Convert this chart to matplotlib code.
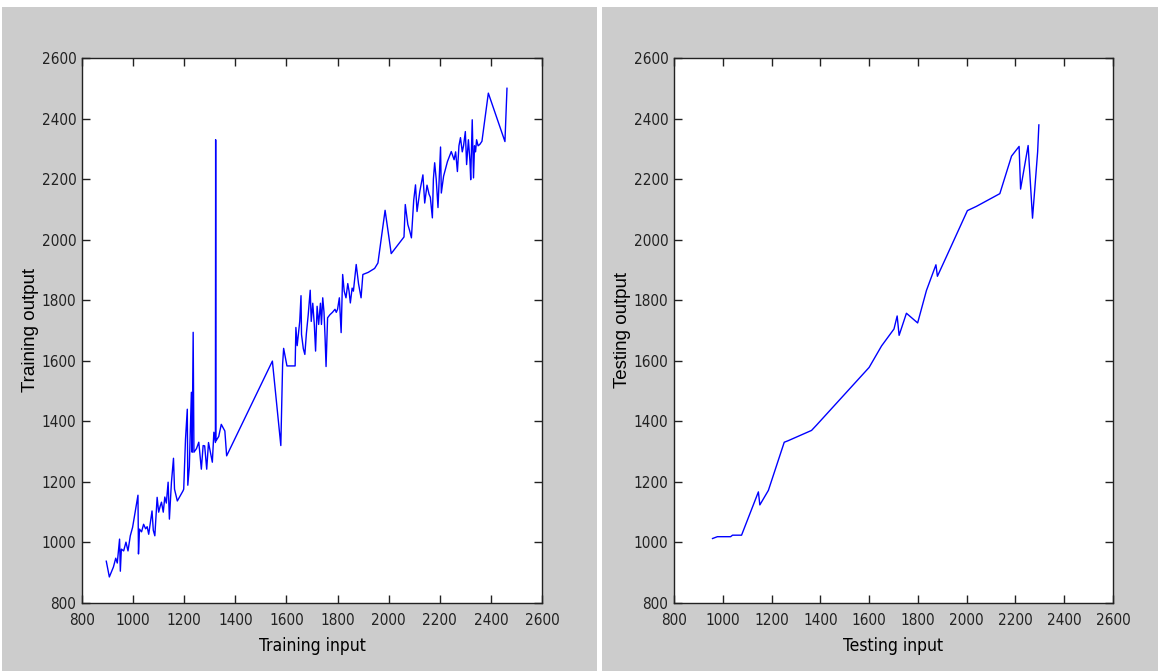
import matplotlib
matplotlib.use("Agg")
import matplotlib.pyplot as plt
from matplotlib.patches import Rectangle
from matplotlib import font_manager

# training curve (input vs output)
train_x = [895, 907, 923, 932, 938, 947, 950, 954, 963, 972, 980, 989, 998, 1008,
           1019, 1021, 1025, 1033, 1041, 1049, 1055, 1061, 1074, 1079, 1085, 1094,
           1100, 1106, 1111, 1118, 1124, 1130, 1137, 1142, 1150, 1158, 1162, 1173,
           1195, 1198, 1205, 1212, 1214, 1220, 1228, 1231, 1235, 1238, 1248, 1257,
           1267, 1274, 1280, 1288, 1295, 1302, 1310, 1316, 1322, 1323, 1324, 1335,
           1345, 1359, 1366, 1545, 1578, 1585, 1589, 1602, 1634, 1637, 1642, 1648,
           1652, 1657, 1659, 1666, 1672, 1678, 1685, 1693, 1697, 1703, 1709, 1714,
           1720, 1726, 1733, 1737, 1742, 1747, 1751, 1755, 1761, 1770, 1780, 1790,
           1795, 1800, 1807, 1814, 1820, 1826, 1833, 1840, 1845, 1850, 1857, 1862,
           1873, 1882, 1892, 1899, 1920, 1945, 1958, 1986, 2010, 2060, 2065, 2075,
           2082, 2089, 2098, 2105, 2111, 2122, 2134, 2141, 2150, 2158, 2163, 2171,
           2175, 2180, 2186, 2193, 2203, 2206, 2215, 2230, 2240, 2245, 2256, 2262,
           2269, 2275, 2281, 2288, 2293, 2300, 2305, 2312, 2318, 2321, 2327, 2332,
           2336, 2340, 2344, 2350, 2357, 2365, 2372, 2390, 2455, 2460, 2463]
train_y = [938, 886, 919, 948, 932, 1011, 905, 978, 972, 1001, 972, 1022, 1050, 1100,
           1156, 962, 1044, 1035, 1060, 1045, 1052, 1027, 1104, 1040, 1022, 1149,
           1100, 1120, 1133, 1100, 1150, 1130, 1199, 1077, 1199, 1278, 1176, 1137,
           1170, 1176, 1341, 1440, 1189, 1250, 1496, 1298, 1694, 1298, 1310, 1331,
           1242, 1320, 1319, 1242, 1330, 1300, 1265, 1364, 1330, 2330, 1335, 1350,
           1390, 1368, 1286, 1599, 1320, 1588, 1641, 1583, 1583, 1710, 1650, 1700,
           1730, 1815, 1687, 1640, 1621, 1690, 1750, 1833, 1730, 1790, 1720, 1632,
           1780, 1720, 1790, 1720, 1808, 1760, 1680, 1581, 1742, 1752, 1760, 1770,
           1760, 1770, 1808, 1693, 1885, 1830, 1808, 1855, 1830, 1791, 1840, 1830,
           1918, 1855, 1808, 1885, 1892, 1905, 1923, 2097, 1954, 2009, 2116, 2050,
           2030, 2006, 2130, 2181, 2093, 2160, 2214, 2121, 2180, 2150, 2140, 2072,
           2200, 2254, 2200, 2106, 2306, 2154, 2210, 2258, 2280, 2291, 2264, 2290,
           2225, 2310, 2337, 2290, 2310, 2357, 2248, 2330, 2260, 2198, 2396, 2204,
           2310, 2290, 2330, 2310, 2315, 2325, 2370, 2484, 2324, 2430, 2500]

# testing curve
test_x = [958, 978, 1032, 1040, 1077, 1146, 1152, 1187, 1252, 1268, 1364, 1385,
          1600, 1651, 1702, 1715, 1723, 1753, 1799, 1835, 1874, 1880, 1917, 2003,
          2040, 2136, 2184, 2215, 2221, 2252, 2270, 2291, 2296]
test_y = [1013, 1019, 1019, 1024, 1024, 1167, 1124, 1172, 1331, 1336, 1370, 1388,
          1578, 1649, 1705, 1748, 1684, 1757, 1725, 1832, 1917, 1879, 1944, 2096,
          2110, 2152, 2276, 2308, 2167, 2311, 2071, 2290, 2379]

ticks = [800, 1000, 1200, 1400, 1600, 1800, 2000, 2200, 2400, 2600]

# prefer a condensed face if one is installed (MATLAB-ish narrow labels)
names = {f.name for f in font_manager.fontManager.ttflist}
cond = [f for f in font_manager.fontManager.ttflist
        if 'Narrow' in f.name or 'Condensed' in f.name or f.stretch in ('condensed', 'semi-condensed')]
if 'Liberation Sans Narrow' in names:
    narrow = dict(family='Liberation Sans Narrow')
elif cond:
    narrow = dict(family=cond[0].name, stretch=cond[0].stretch)
else:
    narrow = dict(family='Liberation Sans')

W, H = 1158, 671
fig = plt.figure(figsize=(W / 100, H / 100), dpi=100, facecolor='white')

# grey panel backgrounds with white separator
grey = '#cccccc'
fig.patches.append(Rectangle((2 / W, 0), 595 / W, 664 / H, transform=fig.transFigure,
                             facecolor=grey, edgecolor='none', zorder=-1))
fig.patches.append(Rectangle((602 / W, 0), 556 / W, 664 / H, transform=fig.transFigure,
                             facecolor=grey, edgecolor='none', zorder=-1))

tick_font = dict(narrow, size=11)
lab_font = dict(narrow, size=12.5)

top, bottom = 58, 603
panels = [
    (82, 542, train_x, train_y, 'Training input', 'Training output'),
    (674, 1113, test_x, test_y, 'Testing input', 'Testing output'),
]

for x0, x1, xs, ys, xl, yl in panels:
    ax = fig.add_axes([x0 / W, (H - bottom) / H, (x1 - x0) / W, (bottom - top) / H])
    ax.plot(xs, ys, color='#0000ff', lw=1.0)
    ax.set_xlim(800, 2600)
    ax.set_ylim(800, 2600)
    ax.set_xticks(ticks)
    ax.set_yticks(ticks)
    ax.set_xticklabels([str(t) for t in ticks], fontdict=tick_font)
    ax.set_yticklabels([str(t) for t in ticks], fontdict=tick_font)
    ax.tick_params(axis='x', pad=7)
    ax.tick_params(axis='y', pad=4)
    ax.tick_params(direction='in', length=6, width=1, top=True, right=True,
                   colors='#222222')
    for s in ax.spines.values():
        s.set_linewidth(1.0)
        s.set_color('#222222')
    ax.set_xlabel(xl, fontdict=lab_font, labelpad=7)
    ax.set_ylabel(yl, family=['Liberation Sans', 'DejaVu Sans'], size=13.5, labelpad=2)

fig.savefig('out.png', dpi=100, facecolor=fig.get_facecolor())
